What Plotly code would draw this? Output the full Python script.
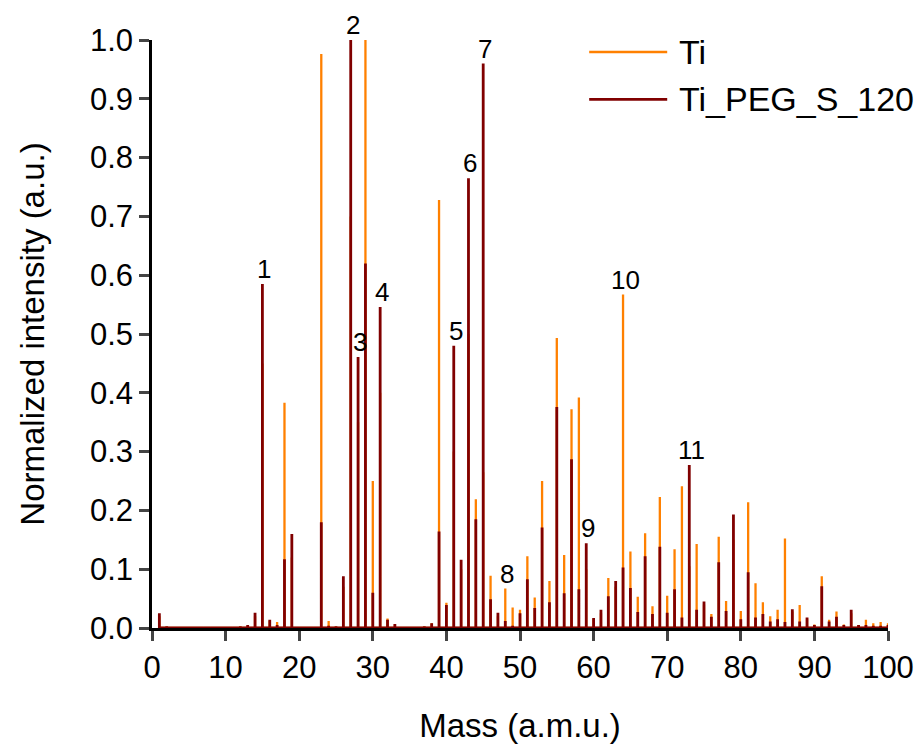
import plotly.graph_objects as go

# masses 1..100 (a.m.u.), normalized peak intensities
mass = list(range(1, 101))

ti = [0.020, 0.003, 0.001, 0.001, 0.001, 0.001, 0.001, 0.001, 0.001, 0.001,
      0.001, 0.003, 0.004, 0.020, 0.450, 0.012, 0.010, 0.383, 0.120, 0.002,
      0.001, 0.001, 0.976, 0.012, 0.003, 0.070, 0.700, 0.350, 1.000, 0.250,
      0.400, 0.016, 0.006, 0.002, 0.002, 0.002, 0.003, 0.008, 0.728, 0.043,
      0.300, 0.100, 0.500, 0.219, 0.265, 0.089, 0.020, 0.067, 0.035, 0.031,
      0.122, 0.052, 0.250, 0.080, 0.493, 0.124, 0.372, 0.392, 0.100, 0.015,
      0.025, 0.085, 0.070, 0.567, 0.130, 0.053, 0.161, 0.037, 0.223, 0.055,
      0.134, 0.241, 0.105, 0.143, 0.040, 0.024, 0.155, 0.046, 0.150, 0.029,
      0.214, 0.076, 0.044, 0.020, 0.031, 0.152, 0.028, 0.039, 0.016, 0.006,
      0.088, 0.014, 0.028, 0.006, 0.025, 0.005, 0.014, 0.008, 0.010, 0.008]

peg = [0.025, 0.003, 0.001, 0.001, 0.001, 0.001, 0.001, 0.001, 0.001, 0.001,
       0.001, 0.003, 0.005, 0.026, 0.585, 0.014, 0.005, 0.117, 0.160, 0.002,
       0.001, 0.001, 0.180, 0.004, 0.003, 0.088, 1.000, 0.461, 0.620, 0.060,
       0.546, 0.014, 0.007, 0.002, 0.001, 0.002, 0.003, 0.008, 0.164, 0.039,
       0.480, 0.116, 0.765, 0.185, 0.960, 0.049, 0.026, 0.012, 0.004, 0.025,
       0.083, 0.034, 0.171, 0.044, 0.376, 0.059, 0.287, 0.066, 0.144, 0.017,
       0.031, 0.054, 0.080, 0.103, 0.068, 0.027, 0.122, 0.024, 0.138, 0.026,
       0.066, 0.018, 0.277, 0.031, 0.045, 0.019, 0.112, 0.029, 0.193, 0.015,
       0.095, 0.018, 0.024, 0.011, 0.015, 0.010, 0.032, 0.011, 0.018, 0.005,
       0.071, 0.011, 0.019, 0.005, 0.031, 0.005, 0.005, 0.004, 0.004, 0.005]

peak_labels = ['1', '2', '3', '4', '5', '6', '7', '8', '9', '10', '11']
label_mass = [15, 27, 28, 31, 41, 43, 45, 48, 59, 64, 73]

x_ticks = [0, 10, 20, 30, 40, 50, 60, 70, 80, 90, 100]
y_ticks = [0.0, 0.1, 0.2, 0.3, 0.4, 0.5, 0.6, 0.7, 0.8, 0.9, 1.0]

FONT = 'Liberation Sans, Arial, sans-serif'
C_TI = '#FF8000'
C_PEG = '#800000'


def sticks(ms, hs):
    # each peak as a vertical stick rising from the baseline
    xs, ys = [], []
    for m, h in zip(ms, hs):
        xs += [m, m, m]
        ys += [0, h, 0]
    return xs, ys


fig = go.Figure()
x1, y1 = sticks(mass, ti)
fig.add_trace(go.Scatter(x=x1, y=y1, mode='lines', name='Ti',
                         line=dict(color=C_TI, width=2.3), showlegend=False))
x2, y2 = sticks(mass, peg)
fig.add_trace(go.Scatter(x=x2, y=y2, mode='lines', name='Ti_PEG_S_120',
                         line=dict(color=C_PEG, width=2.8), showlegend=False))

# peak numbers
for lab, m in zip(peak_labels, label_mass):
    i = mass.index(m)
    fig.add_annotation(x=m, y=max(ti[i], peg[i]), text=lab, showarrow=False,
                       xanchor='center', yanchor='bottom', xshift=2, yshift=-2,
                       font=dict(family=FONT, size=26, color='black'))

# legend drawn by hand (long line samples)
leg = [('Ti', C_TI, 0.9796), ('Ti_PEG_S_120', C_PEG, 0.899)]
for name, col, yy in leg:
    fig.add_shape(type='line', xref='paper', yref='paper', x0=0.594, x1=0.700,
                  y0=yy, y1=yy, line=dict(color=col, width=2.6))
    fig.add_annotation(xref='paper', yref='paper', x=0.713, y=yy, text=name,
                       showarrow=False, xanchor='left', yanchor='middle',
                       font=dict(family=FONT, size=34, color='black'))

# page body has an 8px margin, so the figure is 8px smaller and shifted
fig.update_layout(
    width=915, height=739,
    margin=dict(l=144, r=35, t=32, b=119, autoexpand=False),
    plot_bgcolor='white', paper_bgcolor='white',
    font=dict(family=FONT, size=31, color='black'),
)
fig.update_xaxes(range=[0, 100], tickvals=x_ticks, ticks='outside', ticklen=10,
                 tickwidth=2.5, showline=True, linewidth=2.5, linecolor='black',
                 showgrid=False, zeroline=False, automargin=False,
                 title=dict(text='Mass (a.m.u.)', font=dict(size=33), standoff=30))
fig.update_yaxes(range=[0, 1.0], tickvals=y_ticks, tickformat='.1f', ticks='outside',
                 ticklen=10, tickwidth=2.5, showline=True, linewidth=2.5,
                 linecolor='black', showgrid=False, zeroline=False, automargin=False,
                 title=dict(text='Normalized intensity (a.u.)', font=dict(size=33), standoff=36))

fig.write_html("out.html")
